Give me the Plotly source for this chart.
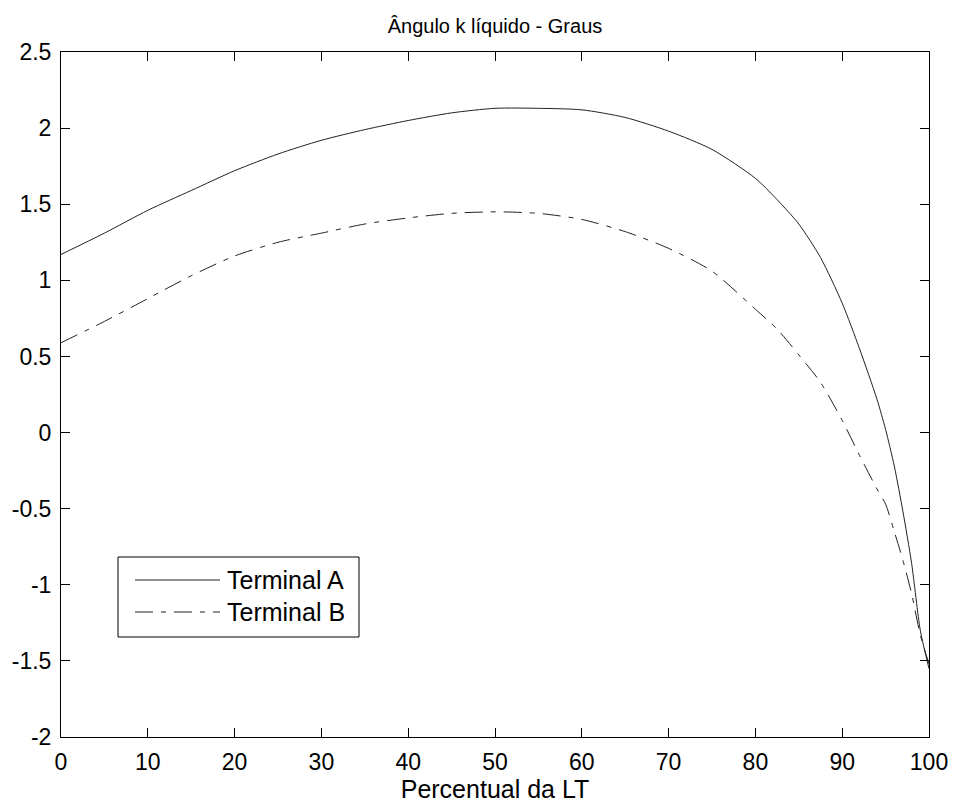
import plotly.graph_objects as go

# Position along the line (%) and the net angle (degrees) seen from each terminal
percentual = [0, 5, 10, 15, 20, 25, 30, 35, 40, 45, 50, 55, 60, 65, 70, 75,
              80, 82.5, 85, 87.5, 90, 92, 94, 95, 96, 97, 98, 99, 100]
terminal_a = [1.17, 1.31, 1.46, 1.59, 1.72, 1.83, 1.92, 1.99, 2.05, 2.10, 2.13,
              2.13, 2.12, 2.07, 1.98, 1.86, 1.67, 1.53, 1.37, 1.15, 0.85, 0.55,
              0.22, 0.02, -0.22, -0.52, -0.86, -1.30, -1.55]
terminal_b = [0.59, 0.73, 0.88, 1.03, 1.16, 1.25, 1.31, 1.37, 1.41, 1.44, 1.45,
              1.44, 1.40, 1.32, 1.21, 1.06, 0.81, 0.68, 0.51, 0.33, 0.08, -0.15,
              -0.37, -0.47, -0.65, -0.84, -1.06, -1.33, -1.52]

x_ticks = [0, 10, 20, 30, 40, 50, 60, 70, 80, 90, 100]
y_ticks = [-2, -1.5, -1, -0.5, 0, 0.5, 1, 1.5, 2, 2.5]
y_tick_text = ["-2", "-1.5", "-1", "-0.5", "0", "0.5", "1", "1.5", "2", "2.5"]

series_names = ["Terminal A", "Terminal B"]
series_dash = ["solid", "18px,8px,5px,8px"]

FONT = "Liberation Sans, Arial, sans-serif"
W, H = 954, 804
L, R, T, B = 61, 25, 52, 67

fig = go.Figure()
for name, ys, dash in zip(series_names, [terminal_a, terminal_b], series_dash):
    fig.add_trace(go.Scatter(
        x=percentual, y=ys, mode="lines", name=name,
        line=dict(color="#222222", width=1, dash=dash, shape="spline", smoothing=0.7),
        showlegend=False,
    ))

axis_common = dict(
    showline=True, linecolor="black", linewidth=1, mirror="allticks",
    ticks="inside", ticklen=9, tickcolor="black", tickwidth=1,
    showgrid=False, zeroline=False, automargin=False,
    tickfont=dict(family=FONT, size=23, color="black"),
)

fig.update_layout(
    width=W, height=H,
    margin=dict(l=L, r=R, t=T, b=B),
    paper_bgcolor="white", plot_bgcolor="white",
    title=dict(text="Ângulo k líquido - Graus", x=(L + (W - L - R) / 2) / W,
               xanchor="center", y=1 - 26 / H, yanchor="middle",
               font=dict(family=FONT, size=20, color="black")),
    xaxis=dict(range=[0, 100], tickvals=x_ticks, ticktext=[str(v) for v in x_ticks],
               ticklabelstandoff=4,
               title=dict(text="Percentual da LT", standoff=4,
                          font=dict(family=FONT, size=25, color="black")),
               **axis_common),
    yaxis=dict(range=[-2, 2.5], tickvals=y_ticks, ticktext=y_tick_text,
               ticklabelstandoff=4, **axis_common),
)

# Boxed legend in the lower left corner of the axes
pw, ph = W - L - R, H - T - B


def px_to_paper(xp, yp):
    return (xp - L) / pw, (H - B - yp) / ph


bx0, by0 = px_to_paper(118, 637)
bx1, by1 = px_to_paper(359, 557)
fig.add_shape(type="rect", xref="paper", yref="paper", x0=bx0, y0=by0, x1=bx1, y1=by1,
              line=dict(color="black", width=1), fillcolor="white", layer="above")

for (name, dash), ypix in zip(zip(series_names, series_dash), [580, 612]):
    lx0, ly = px_to_paper(135, ypix)
    lx1, _ = px_to_paper(220, ypix)
    fig.add_shape(type="line", xref="paper", yref="paper", x0=lx0, y0=ly, x1=lx1, y1=ly,
                  line=dict(color="#222222", width=1, dash=dash), layer="above")
    tx, _ = px_to_paper(225, ypix)
    fig.add_annotation(xref="paper", yref="paper", x=tx, y=ly, text=name,
                       showarrow=False, xanchor="left", yanchor="middle",
                       font=dict(family=FONT, size=25, color="black"))

fig.write_html("out.html")
